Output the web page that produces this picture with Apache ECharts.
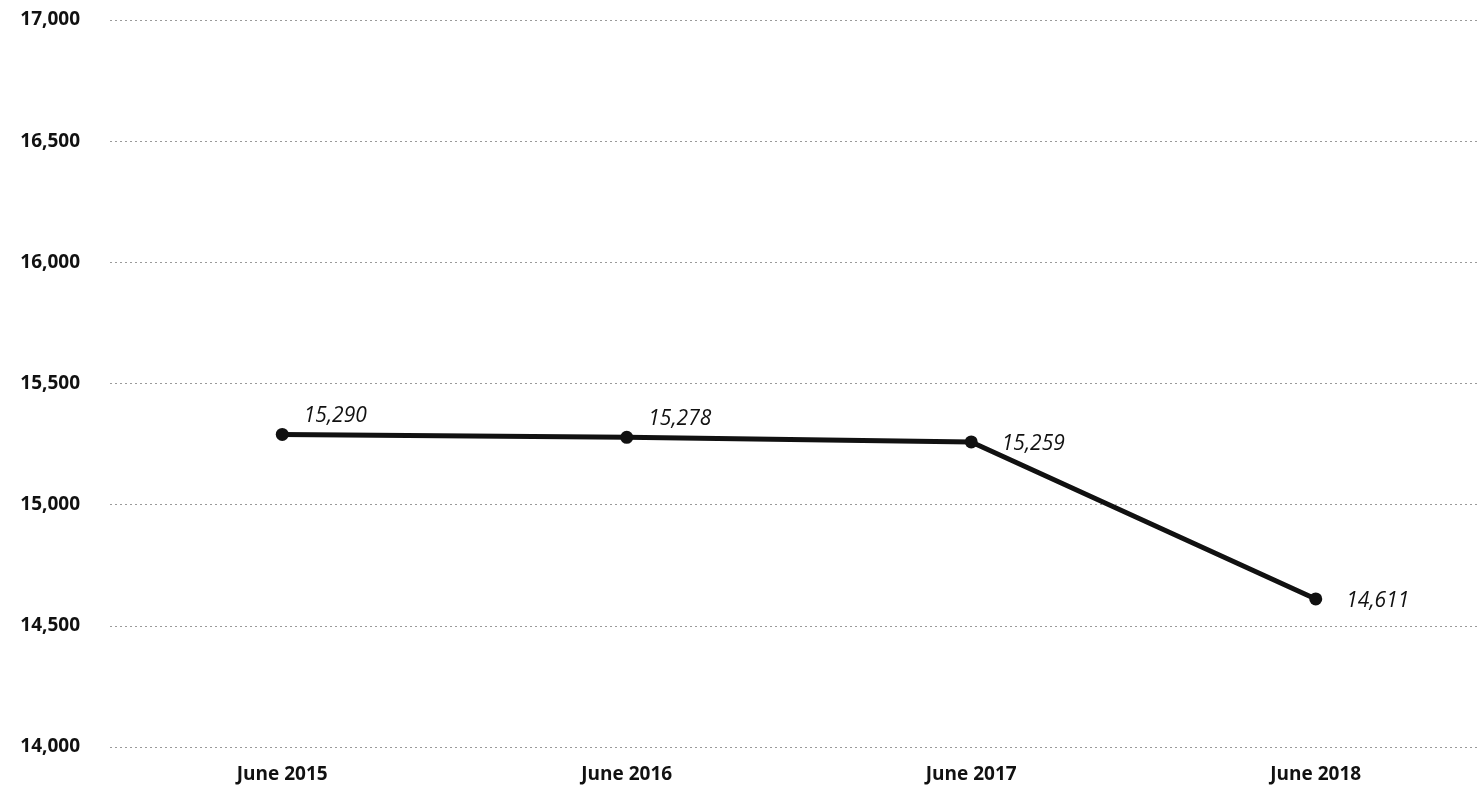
<!DOCTYPE html>
<html>
<head>
<meta charset="utf-8">
<script src="https://cdn.jsdelivr.net/npm/echarts@6/dist/echarts.min.js"></script>
<style>html,body{margin:0;padding:0;background:#fff;}#c{width:1477px;height:790px;}</style>
</head>
<body>
<div id="c"></div>
<script>
const categories = ['June 2015', 'June 2016', 'June 2017', 'June 2018'];
const values = [15290, 15278, 15259, 14611];
const yMin = 14000, yMax = 17000, yStep = 500;

const labelPos = ['topRight', 'topRight', 'right', 'right'];

const chart = echarts.init(document.getElementById('c'));
chart.setOption({
  animation: false,
  backgroundColor: '#fff',
  grid: { left: 110, width: 1378, top: 20, bottom: 43, containLabel: false, outerBoundsMode: 'none' },
  xAxis: {
    type: 'category',
    data: categories,
    boundaryGap: true,
    axisLine: { show: false },
    axisTick: { show: false },
    axisLabel: { margin: 18, color: '#111', fontFamily: 'Open Sans', fontWeight: 'bold', fontSize: 19 }
  },
  yAxis: {
    type: 'value',
    min: yMin, max: yMax, interval: yStep,
    axisLine: { show: false },
    axisTick: { show: false },
    splitLine: { lineStyle: { color: '#9a9a9a', type: [2, 3], width: 1 } },
    axisLabel: {
      margin: 30, color: '#111', fontFamily: 'Open Sans', fontWeight: 'bold', fontSize: 19,
      formatter: v => v.toLocaleString('en-US')
    }
  },
  series: [{
    type: 'line',
    data: values.map((v, i) => ({
      value: v,
      label: labelPos[i] === 'topRight'
        ? { position: 'right', offset: [3, -18] }
        : { position: 'right', offset: [12, 2] }
    })),
    symbol: 'circle',
    symbolSize: 13,
    lineStyle: { color: '#111', width: 5 },
    itemStyle: { color: '#111' },
    label: {
      show: true,
      distance: 12,
      color: '#111',
      fontFamily: 'Open Sans',
      fontStyle: 'italic',
      fontSize: 21,
      formatter: p => p.value.toLocaleString('en-US')
    }
  }]
});
</script>
</body>
</html>
